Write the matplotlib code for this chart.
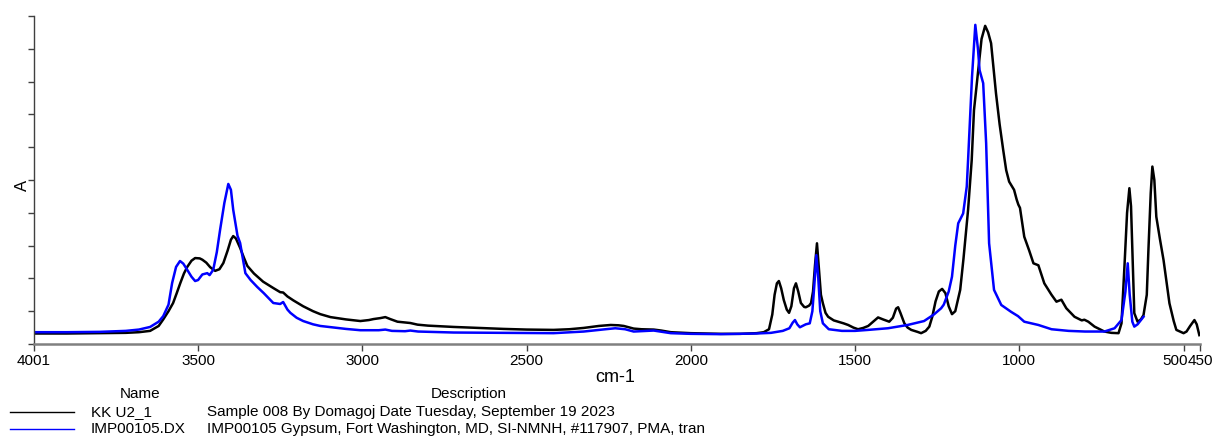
import matplotlib as mpl

mpl.use('Agg')
import matplotlib.pyplot as plt
from matplotlib.lines import Line2D
from matplotlib.transforms import ScaledTranslation

plt.rcParams['font.family'] = ['Liberation Sans', 'DejaVu Sans']

# KK U2_1 (black)
kk_wn = [4001, 3900, 3800, 3720, 3680, 3646, 3620, 3606, 3590, 3576, 3565, 3554, 3543, 3533,
         3520, 3509, 3495, 3487, 3475, 3463, 3448, 3435, 3423, 3410, 3400, 3393, 3385, 3372,
         3360, 3350, 3330, 3302, 3270, 3250, 3241, 3228, 3210, 3180, 3150, 3128, 3097, 3050,
         3006, 2980, 2966, 2945, 2930, 2915, 2893, 2854, 2832, 2800, 2722, 2650, 2570, 2500,
         2418, 2370, 2326, 2280, 2244, 2220, 2204, 2174, 2150, 2113, 2090, 2061, 2000, 1909,
         1850, 1800, 1778, 1762, 1752, 1745, 1738, 1732, 1725, 1717, 1708, 1701, 1694, 1686,
         1680, 1673, 1665, 1655, 1650, 1640, 1634, 1628, 1622, 1616, 1610, 1604, 1598, 1590,
         1582, 1565, 1552, 1535, 1521, 1505, 1491, 1475, 1460, 1445, 1430, 1415, 1396, 1385,
         1375, 1369, 1362, 1350, 1340, 1329, 1310, 1299, 1285, 1274, 1265, 1255, 1245, 1235,
         1225, 1215, 1205, 1195, 1180, 1170, 1156, 1145, 1138, 1122, 1115, 1104, 1095, 1086,
         1071, 1060, 1049, 1040, 1031, 1016, 1008, 1003, 998, 985, 970, 957, 942, 924, 902,
         887, 872, 857, 832, 810, 802, 790, 771, 741, 720, 698, 689, 680, 672, 665, 660, 656,
         650, 640, 630, 622, 612, 607, 600, 595, 589, 583, 572, 561, 543, 530, 522, 500, 491,
         480, 467, 460, 452]
kk_abs = [0.032, 0.032, 0.033, 0.034, 0.036, 0.040, 0.055, 0.075, 0.100, 0.125, 0.155, 0.186,
          0.215, 0.235, 0.254, 0.262, 0.261, 0.257, 0.248, 0.234, 0.223, 0.228, 0.247, 0.285,
          0.318, 0.329, 0.322, 0.293, 0.262, 0.238, 0.215, 0.190, 0.170, 0.158, 0.157, 0.145,
          0.133, 0.115, 0.100, 0.091, 0.082, 0.075, 0.070, 0.073, 0.076, 0.079, 0.082, 0.076,
          0.068, 0.064, 0.059, 0.056, 0.052, 0.049, 0.046, 0.044, 0.043, 0.045, 0.049, 0.055,
          0.058, 0.057, 0.055, 0.047, 0.045, 0.044, 0.041, 0.036, 0.033, 0.031, 0.031, 0.033,
          0.036, 0.045, 0.090, 0.150, 0.185, 0.192, 0.170, 0.134, 0.105, 0.095, 0.115, 0.170,
          0.185, 0.160, 0.125, 0.113, 0.112, 0.117, 0.125, 0.160, 0.240, 0.307, 0.230, 0.150,
          0.124, 0.095, 0.083, 0.072, 0.068, 0.063, 0.058, 0.050, 0.045, 0.049, 0.055, 0.068,
          0.081, 0.075, 0.068, 0.080, 0.108, 0.112, 0.095, 0.063, 0.050, 0.043, 0.037, 0.033,
          0.040, 0.053, 0.083, 0.130, 0.160, 0.168, 0.155, 0.115, 0.091, 0.100, 0.165, 0.260,
          0.409, 0.560, 0.713, 0.866, 0.930, 0.970, 0.950, 0.917, 0.764, 0.670, 0.591, 0.530,
          0.495, 0.470, 0.440, 0.425, 0.415, 0.327, 0.285, 0.246, 0.240, 0.185, 0.150, 0.129,
          0.135, 0.109, 0.083, 0.072, 0.074, 0.068, 0.053, 0.038, 0.034, 0.033, 0.063, 0.236,
          0.400, 0.475, 0.420, 0.287, 0.094, 0.068, 0.075, 0.088, 0.150, 0.287, 0.460, 0.541,
          0.500, 0.388, 0.320, 0.256, 0.124, 0.070, 0.043, 0.033, 0.038, 0.055, 0.073, 0.060,
          0.027]

# IMP00105.DX (blue)
imp_wn = [4001, 3900, 3800, 3720, 3680, 3646, 3620, 3606, 3590, 3579, 3567, 3555, 3545, 3533,
          3520, 3509, 3500, 3487, 3472, 3465, 3454, 3443, 3433, 3420, 3408, 3400, 3393, 3380,
          3372, 3356, 3340, 3320, 3300, 3271, 3250, 3241, 3228, 3219, 3200, 3180, 3150, 3128,
          3050, 3006, 2950, 2930, 2910, 2870, 2854, 2830, 2722, 2570, 2418, 2326, 2260, 2230,
          2200, 2174, 2113, 2061, 2000, 1909, 1800, 1756, 1720, 1700, 1690, 1683, 1676, 1668,
          1650, 1638, 1630, 1624, 1618, 1612, 1606, 1598, 1580, 1540, 1500, 1460, 1400, 1340,
          1290, 1260, 1238, 1230, 1215, 1205, 1195, 1186, 1171, 1160, 1156, 1144, 1134, 1126,
          1121, 1110, 1101, 1092, 1077, 1055, 1025, 1004, 985, 942, 902, 850, 800, 741, 710,
          689, 677, 670, 664, 656, 650, 640, 622]
imp_abs = [0.036, 0.036, 0.037, 0.040, 0.044, 0.052, 0.068, 0.085, 0.120, 0.186, 0.235, 0.253,
           0.245, 0.226, 0.205, 0.192, 0.195, 0.212, 0.216, 0.210, 0.226, 0.280, 0.348, 0.430,
           0.488, 0.470, 0.409, 0.330, 0.308, 0.216, 0.195, 0.174, 0.155, 0.125, 0.122, 0.128,
           0.105, 0.095, 0.080, 0.070, 0.060, 0.055, 0.046, 0.042, 0.042, 0.044, 0.040, 0.039,
           0.041, 0.038, 0.035, 0.034, 0.033, 0.038, 0.045, 0.048, 0.045, 0.038, 0.041, 0.033,
           0.031, 0.030, 0.032, 0.034, 0.040, 0.048, 0.065, 0.073, 0.060, 0.051, 0.060, 0.063,
           0.100, 0.180, 0.271, 0.200, 0.100, 0.063, 0.045, 0.040, 0.040, 0.043, 0.048, 0.058,
           0.070, 0.090, 0.109, 0.120, 0.160, 0.205, 0.300, 0.368, 0.398, 0.480, 0.561, 0.815,
           0.973, 0.900, 0.835, 0.795, 0.612, 0.307, 0.165, 0.119, 0.098, 0.085, 0.068, 0.058,
           0.045, 0.040, 0.038, 0.038, 0.048, 0.073, 0.160, 0.246, 0.150, 0.068, 0.053, 0.060,
           0.083]

x_ticks = [4001, 3500, 3000, 2500, 2000, 1500, 1000, 500, 450]
names = ['KK U2_1', 'IMP00105.DX']
descriptions = ['Sample 008 By Domagoj Date Tuesday, September 19 2023',
                'IMP00105 Gypsum, Fort Washington, MD, SI-NMNH, #117907, PMA, tran']
colors = ['black', '#0000ff']

W, H = 1213, 446
fig = plt.figure(figsize=(W / 100, H / 100), dpi=100)
ax = fig.add_axes([33.5 / W, 1 - 344 / H, (1200 - 33.5) / W, (344 - 16) / H])

ax.plot(kk_wn, kk_abs, color=colors[0], lw=1.8)
ax.plot(imp_wn, imp_abs, color=colors[1], lw=1.8)

ax.set_xlim(4001, 450)
ax.set_ylim(0, 1)
ax.set_xticks(x_ticks)
ax.set_xticklabels([str(t) for t in x_ticks], fontsize=11)
ax.set_yticks([i / 10 for i in range(11)])
ax.set_yticklabels([])
ax.tick_params(axis='x', length=5, width=1, color='#404040', pad=2)
ax.tick_params(axis='y', length=4, width=1, color='#404040')

# the "500" label sits left of its tick so it butts up against "450"
lbl500 = ax.get_xticklabels()[7]
lbl500.set_transform(lbl500.get_transform() + ScaledTranslation(-0.085, 0, fig.dpi_scale_trans))

for s in ['top', 'right']:
    ax.spines[s].set_visible(False)
ax.spines['bottom'].set_color('#808080')
ax.spines['bottom'].set_linewidth(1.8)
ax.spines['left'].set_color('#404040')
ax.spines['left'].set_linewidth(1.0)

fig.text(22 / W, 1 - 185 / H, 'A', rotation=90, fontsize=12, ha='center', va='center')
fig.text(615 / W, 1 - 377 / H, 'cm-1', fontsize=13, ha='center', va='center')

# legend table under the plot
fig.text(140 / W, 1 - 394 / H, 'Name', fontsize=11, ha='center', va='center')
fig.text(469 / W, 1 - 394 / H, 'Description', fontsize=11, ha='center', va='center')
for i, (n, d, c) in enumerate(zip(names, descriptions, colors)):
    yy = 1 - (412 + 17 * i) / H
    fig.add_artist(Line2D([10 / W, 74 / W], [yy, yy], color=c, lw=1.0))
    fig.text(91 / W, yy, n, fontsize=11, ha='left', va='center')
    fig.text(207 / W, yy, d, fontsize=11, ha='left', va='center')

plt.savefig('out.png', dpi=100)
